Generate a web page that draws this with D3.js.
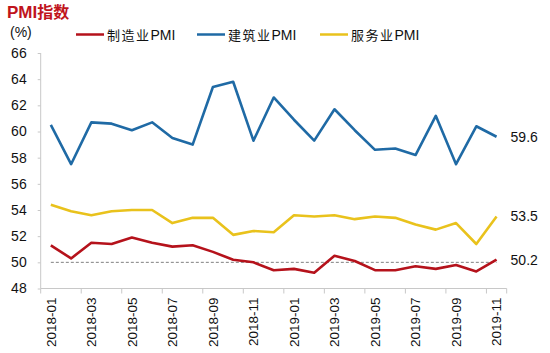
<!DOCTYPE html>
<html><head><meta charset="utf-8">
<script src="https://cdn.jsdelivr.net/npm/d3@7"></script>
<style>
body{margin:0;background:#fff;}
text{font-family:"Liberation Sans",Arial,sans-serif;}
</style></head>
<body>
<svg id="chart" width="550" height="353"></svg>
<script>
const months = ["2018-01","2018-02","2018-03","2018-04","2018-05","2018-06","2018-07","2018-08","2018-09","2018-10","2018-11","2018-12",
"2019-01","2019-02","2019-03","2019-04","2019-05","2019-06","2019-07","2019-08","2019-09","2019-10","2019-11"];
const manufacturing = [51.3,50.3,51.5,51.4,51.9,51.5,51.2,51.3,50.8,50.2,50.0,49.4,49.5,49.2,50.5,50.1,49.4,49.4,49.7,49.5,49.8,49.3,50.2];
const construction = [60.5,57.5,60.7,60.6,60.1,60.7,59.5,59.0,63.4,63.8,59.3,62.6,60.9,59.3,61.7,60.1,58.6,58.7,58.2,61.2,57.5,60.4,59.6];
const services = [54.4,53.9,53.6,53.9,54.0,54.0,53.0,53.4,53.4,52.1,52.4,52.3,53.6,53.5,53.6,53.3,53.5,53.4,52.9,52.5,53.0,51.4,53.5];
const seriesNames = ["制造业PMI","建筑业PMI","服务业PMI"];
const colors = ["#b5121b","#1f6aa5","#e9c21c"];
const yTicks = [48,50,52,54,56,58,60,62,64,66];
const xLabels = months.filter((m,i)=>i%2===0);
const refValue = 50;

const series = [manufacturing, construction, services];
const svg = d3.select("#chart");

const x = d3.scaleBand().domain(months).range([40.7,506.7]).padding(0);
const y = d3.scaleLinear().domain([48,66]).range([288.5,53]);
const bw = x.bandwidth();

// title
const title = svg.append("text").attr("x",7).attr("y",17.5)
  .attr("fill","#c0141c").attr("font-weight","bold").attr("font-size",17);
title.append("tspan").text("PMI");
title.append("tspan").attr("font-family","'Noto Sans CJK SC'").attr("font-size",16).text("指数");

svg.append("text").attr("x",10).attr("y",37).attr("font-size",14).attr("fill","#111").text("(%)");

// legend
const legX = [76,197,320];
seriesNames.forEach((n,i)=>{
  svg.append("line").attr("x1",legX[i]).attr("x2",legX[i]+28).attr("y1",34.5).attr("y2",34.5)
    .attr("stroke",colors[i]).attr("stroke-width",2.5);
  const t = svg.append("text").attr("x",legX[i]+31).attr("y",39.5).attr("font-size",14).attr("fill","#111");
  t.append("tspan").attr("font-family","'Noto Sans CJK SC'").attr("font-size",13).attr("letter-spacing",1.5).text(n.replace("PMI",""));
  t.append("tspan").text("PMI");
});

// y axis
const yAxis = svg.append("g").attr("transform","translate(40.7,0)")
  .call(d3.axisLeft(y).tickValues(yTicks).tickSize(3).tickPadding(11).tickFormat(d3.format("d")));
yAxis.select(".domain").attr("stroke","#c8c8c8").attr("d",`M0,${y(66)}V${y(48)}`);
yAxis.selectAll(".tick line").attr("stroke","#c8c8c8");
yAxis.selectAll(".tick text").attr("font-size",14).attr("fill","#111").attr("font-family","'Liberation Sans',Arial,sans-serif");

// x axis
const xAxis = svg.append("g").attr("transform",`translate(0,${y(48)})`)
  .call(d3.axisBottom(x).tickValues(xLabels).tickSize(5).tickFormat(d=>d));
xAxis.select(".domain").attr("stroke","#c8c8c8").attr("d",`M${x.range()[0]},0H${x.range()[1]}`);
xAxis.selectAll(".tick line").attr("stroke","#c8c8c8").attr("x1",-bw/2).attr("x2",-bw/2);
xAxis.selectAll(".tick text").attr("font-size",13.5).attr("fill","#111")
  .attr("font-family","'Liberation Sans',Arial,sans-serif")
  .attr("text-anchor","end").attr("transform","rotate(-90)")
  .attr("x",-9).attr("y",0).attr("dy","0.35em");
xAxis.append("line").attr("x1",x.range()[1]).attr("x2",x.range()[1]).attr("y1",0).attr("y2",5).attr("stroke","#c8c8c8");

// reference line
svg.append("line").attr("x1",x.range()[0]+bw/2).attr("x2",x(months[months.length-1])+bw/2)
  .attr("y1",y(refValue)).attr("y2",y(refValue))
  .attr("stroke","#808080").attr("stroke-width",1).attr("stroke-dasharray","3,2");

// lines
const line = d3.line().x((d,i)=>x(months[i])+bw/2).y(d=>y(d));
series.forEach((s,i)=>{
  svg.append("path").datum(s).attr("d",line).attr("fill","none")
    .attr("stroke",colors[i]).attr("stroke-width",2.6).attr("stroke-linejoin","round");
  const last = s[s.length-1];
  svg.append("text").attr("x",x(months[months.length-1])+bw/2+14).attr("y",y(last)).attr("dy","0.35em")
    .attr("font-size",14).attr("fill","#111").text(d3.format(".1f")(last));
});
</script>
</body></html>
